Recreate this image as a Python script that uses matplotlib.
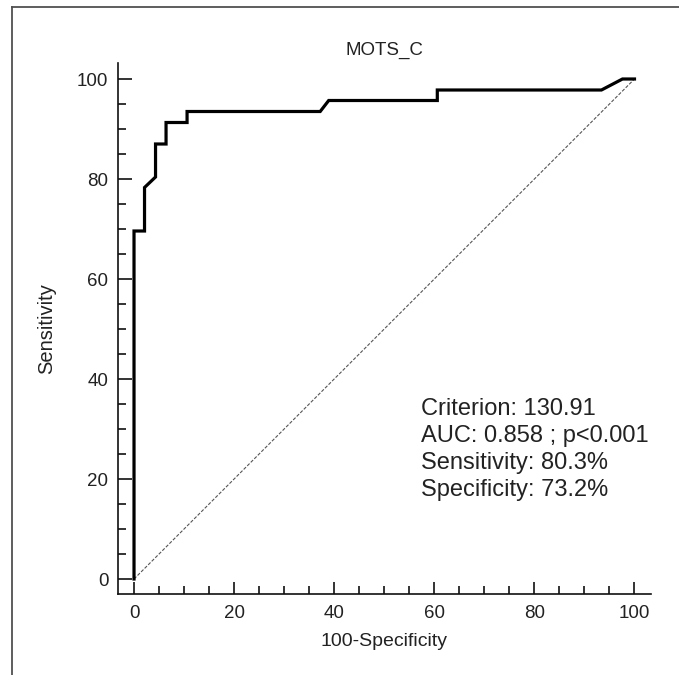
import matplotlib
matplotlib.use("Agg")
import matplotlib.pyplot as plt
from matplotlib.lines import Line2D
from matplotlib.ticker import MultipleLocator

plt.rcParams["font.family"] = ["Liberation Sans", "DejaVu Sans"]

# ROC curve (100-Specificity, Sensitivity)
fpr = [0, 0, 2.1, 2.1, 4.3, 4.3, 6.4, 6.4, 10.6, 10.6, 37.2, 38.9, 60.6, 60.6, 93.4, 97.6, 100]
tpr = [0, 69.6, 69.6, 78.3, 80.4, 87.0, 87.0, 91.3, 91.3, 93.5, 93.5, 95.7, 95.7, 97.8, 97.8, 100, 100]
ref_line = [0, 100]

title = "MOTS_C"
stats_lines = ["Criterion: 130.91", "AUC: 0.858 ; p<0.001",
               "Sensitivity: 80.3%", "Specificity: 73.2%"]

W, H = 679, 675
fig = plt.figure(figsize=(W / 100, H / 100), dpi=100)
ax = fig.add_axes([118 / W, 1 - 594 / H, (651 - 118) / W, (594 - 63) / H])

ax.plot(ref_line, ref_line, color="#555555", lw=0.8, ls=(0, (3, 1.5)))
ax.plot(fpr, tpr, color="black", lw=2.3, solid_joinstyle="miter")

ax.set_xlim(-3.2, 103.3)
ax.set_ylim(-3.0, 103.2)
ax.set_xticks(range(0, 101, 20))
ax.set_yticks(range(0, 101, 20))
ax.xaxis.set_minor_locator(MultipleLocator(5))
ax.yaxis.set_minor_locator(MultipleLocator(5))

for side in ["top", "right"]:
    ax.spines[side].set_visible(False)
for side in ["left", "bottom"]:
    ax.spines[side].set_linewidth(1.2)
    ax.spines[side].set_color("#111111")

ax.tick_params(axis="both", which="both", direction="in", width=1.2,
               color="#111111", labelsize=13.5, labelcolor="#222222")
ax.tick_params(axis="y", which="major", length=10, pad=7)
ax.tick_params(axis="y", which="minor", length=6)
ax.tick_params(axis="x", which="major", length=9, pad=8)
ax.tick_params(axis="x", which="minor", length=5.5)

ax.set_xlabel("100-Specificity", fontsize=14, color="#222222", labelpad=8)
ax.set_ylabel("Sensitivity", fontsize=14.5, color="#222222", labelpad=15)
ax.set_title(title, fontsize=13.5, color="#222222", pad=6)

ax.text(57.3, 25.9, "\n".join(stats_lines), fontsize=17, color="#222222",
        ha="left", va="center", linespacing=1.28)

# outer frame (left and top edges only, as in the cropped screenshot)
fig.add_artist(Line2D([12 / W, 12 / W], [0, 1 - 7 / H], color="#505050", lw=1.3,
                      transform=fig.transFigure))
fig.add_artist(Line2D([12 / W, 1], [1 - 7 / H, 1 - 7 / H], color="#505050", lw=1.3,
                      transform=fig.transFigure))

fig.savefig("out.png", dpi=100)
